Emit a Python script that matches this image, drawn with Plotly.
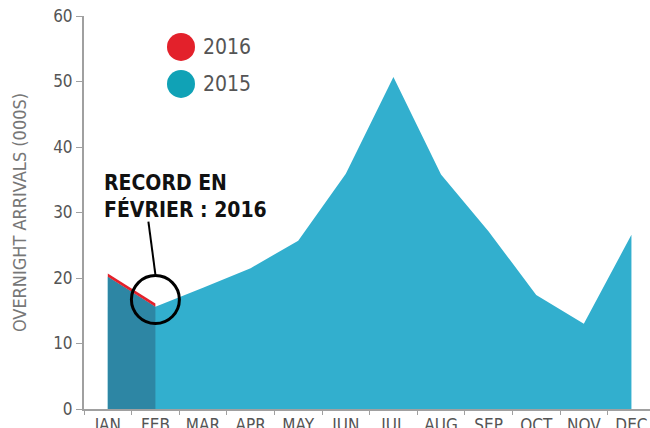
import plotly.graph_objects as go

months = ["JAN", "FEB", "MAR", "APR", "MAY", "JUN", "JUL", "AUG", "SEP", "OCT", "NOV", "DEC"]
arrivals_2015 = [20.2, 15.6, 18.5, 21.5, 25.7, 35.9, 50.7, 35.8, 27.1, 17.4, 13.0, 26.6]
months_2016 = ["JAN", "FEB"]
arrivals_2016 = [20.7, 16.1]
y_ticks = [0, 10, 20, 30, 40, 50, 60]

FONT = "DejaVu Sans Condensed, Liberation Sans Narrow, Roboto, sans-serif"
LIGHT = "#32afce"
DARK = "#2d86a4"
RED = "#e3212b"
TEAL = "#10a2b6"
AXIS = "#a0a0a0"

fig = go.Figure()
fig.add_trace(go.Scatter(x=months, y=arrivals_2015, mode="lines", fill="tozeroy",
                         fillcolor=LIGHT, line=dict(width=0, color=LIGHT), showlegend=False,
                         hoverinfo="skip"))
fig.add_trace(go.Scatter(x=months_2016, y=arrivals_2015[:len(months_2016)], mode="lines",
                         fill="tozeroy", fillcolor=DARK, line=dict(width=0, color=DARK),
                         showlegend=False, hoverinfo="skip"))
fig.add_trace(go.Scatter(x=months_2016, y=arrivals_2016, mode="lines", fill="tonexty",
                         fillcolor=RED, line=dict(width=0, color=RED), showlegend=False,
                         hoverinfo="skip"))

# callout circle and pointer anchored at the FEB 2016 point
fig.add_shape(type="circle", xref="x", yref="y", xsizemode="pixel", ysizemode="pixel",
              xanchor=1, yanchor=arrivals_2016[1], x0=-24, x1=24, y0=-20, y1=28,
              line=dict(color="black", width=3), fillcolor="rgba(0,0,0,0)")
fig.add_shape(type="line", xref="x", yref="y", xsizemode="pixel", ysizemode="pixel",
              xanchor=1, yanchor=arrivals_2016[1], x0=-7, y0=82, x1=0, y1=29,
              line=dict(color="black", width=2))

fig.add_annotation(x=-0.12, y=36.7, xref="x", yref="y", xanchor="left", yanchor="top",
                   text="<b>RECORD EN<br>FÉVRIER : 2016</b>", showarrow=False, align="left",
                   font=dict(family=FONT, size=21, color="#111111"))

# legend
for i, (label, col) in enumerate([("2016", RED), ("2015", TEAL)]):
    cy = 46.5 + i * 37
    fig.add_shape(type="circle", xref="paper", yref="paper", xsizemode="pixel", ysizemode="pixel",
                  xanchor=(181 - 84) / 566, yanchor=1 - (cy - 15.5) / 393.5,
                  x0=-14, x1=14, y0=-14, y1=14, fillcolor=col, line=dict(width=0))
    fig.add_annotation(x=(201 - 84) / 566, y=1 - (cy - 15.5) / 393.5, xref="paper", yref="paper",
                       xanchor="left", yanchor="middle", text=label, showarrow=False,
                       font=dict(family=FONT, size=21, color="#555555"))

fig.update_layout(
    width=650, height=428,
    margin=dict(l=84, r=0, t=15.5, b=19),
    paper_bgcolor="white", plot_bgcolor="white",
    font=dict(family=FONT, color="#555555"),
    showlegend=False,
)
fig.update_xaxes(type="category", categoryorder="array", categoryarray=months,
                 range=[-0.5, 11.39], tickson="boundaries", ticks="outside", ticklen=4,
                 tickcolor=AXIS, showline=True, linecolor=AXIS, linewidth=2, automargin=False,
                 showgrid=False, zeroline=False, tickfont=dict(family=FONT, size=17, color="#555555"))
fig.update_yaxes(range=[0, 60], tickvals=y_ticks, ticks="outside", ticklen=6, tickcolor=AXIS,
                 showline=True, linecolor=AXIS, linewidth=2, showgrid=False, zeroline=False,
                 automargin=False,
                 tickfont=dict(family=FONT, size=17, color="#555555"),
                 title=dict(text="OVERNIGHT ARRIVALS (000S)", standoff=22,
                            font=dict(family=FONT, size=18, color="#777777")))

fig.write_html("out.html")
